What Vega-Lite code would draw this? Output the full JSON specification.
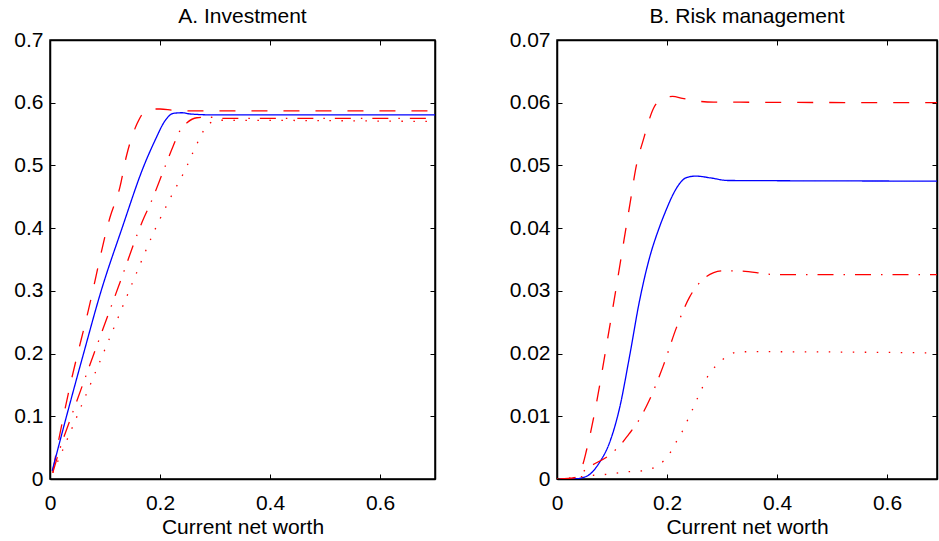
{
  "$schema": "https://vega.github.io/schema/vega-lite/v6.json",
  "padding": {"left": 13, "top": 5, "right": 0, "bottom": 0},
  "config": {
    "font": "Liberation Sans",
    "view": {"stroke": "black", "strokeWidth": 1.5},
    "axis": {
      "grid": false,
      "domainColor": "black",
      "domainWidth": 1.5,
      "tickColor": "black",
      "tickWidth": 1,
      "tickSize": -5,
      "labelFont": "Liberation Sans",
      "labelFontSize": 21,
      "labelColor": "black",
      "labelFlush": false,
      "labelOverlap": false,
      "titleFont": "Liberation Sans",
      "titleFontSize": 21,
      "titleFontWeight": "normal",
      "titleColor": "black"
    },
    "title": {"font": "Liberation Sans", "fontSize": 21, "fontWeight": "normal", "color": "black", "baseline": "alphabetic", "offset": 2}
  },
  "datasets": {
    "inv": [
      {"s": "dashed", "x": 0.005, "y": 0.012}, {"s": "dashed", "x": 0.009, "y": 0.031}, {"s": "dashed", "x": 0.033, "y": 0.135}, {"s": "dashed", "x": 0.07, "y": 0.27}, {"s": "dashed", "x": 0.109, "y": 0.417}, {"s": "dashed", "x": 0.127, "y": 0.465}, {"s": "dashed", "x": 0.139, "y": 0.515}, {"s": "dashed", "x": 0.158, "y": 0.566}, {"s": "dashed", "x": 0.17, "y": 0.584}, {"s": "dashed", "x": 0.185, "y": 0.59}, {"s": "dashed", "x": 0.2, "y": 0.59}, {"s": "dashed", "x": 0.224, "y": 0.588}, {"s": "dashed", "x": 0.26, "y": 0.587}, {"s": "dashed", "x": 0.7, "y": 0.587},
      {"s": "solid", "x": 0.004, "y": 0.013}, {"s": "solid", "x": 0.03, "y": 0.1}, {"s": "solid", "x": 0.061, "y": 0.2}, {"s": "solid", "x": 0.093, "y": 0.3}, {"s": "solid", "x": 0.131, "y": 0.4}, {"s": "solid", "x": 0.171, "y": 0.5}, {"s": "solid", "x": 0.191, "y": 0.54}, {"s": "solid", "x": 0.209, "y": 0.571}, {"s": "solid", "x": 0.224, "y": 0.583}, {"s": "solid", "x": 0.24, "y": 0.584}, {"s": "solid", "x": 0.255, "y": 0.582}, {"s": "solid", "x": 0.3, "y": 0.5805}, {"s": "solid", "x": 0.7, "y": 0.5805},
      {"s": "dashdot", "x": 0.005, "y": 0.01}, {"s": "dashdot", "x": 0.018, "y": 0.048}, {"s": "dashdot", "x": 0.038, "y": 0.098}, {"s": "dashdot", "x": 0.08, "y": 0.2}, {"s": "dashdot", "x": 0.125, "y": 0.308}, {"s": "dashdot", "x": 0.171, "y": 0.417}, {"s": "dashdot", "x": 0.182, "y": 0.438}, {"s": "dashdot", "x": 0.206, "y": 0.491}, {"s": "dashdot", "x": 0.224, "y": 0.531}, {"s": "dashdot", "x": 0.236, "y": 0.555}, {"s": "dashdot", "x": 0.249, "y": 0.568}, {"s": "dashdot", "x": 0.267, "y": 0.576}, {"s": "dashdot", "x": 0.288, "y": 0.577}, {"s": "dashdot", "x": 0.315, "y": 0.575}, {"s": "dashdot", "x": 0.7, "y": 0.575},
      {"s": "dotted", "x": 0.005, "y": 0.01}, {"s": "dotted", "x": 0.02, "y": 0.04}, {"s": "dotted", "x": 0.039, "y": 0.079}, {"s": "dotted", "x": 0.073, "y": 0.15}, {"s": "dotted", "x": 0.11, "y": 0.228}, {"s": "dotted", "x": 0.15, "y": 0.313}, {"s": "dotted", "x": 0.191, "y": 0.398}, {"s": "dotted", "x": 0.22, "y": 0.45}, {"s": "dotted", "x": 0.249, "y": 0.499}, {"s": "dotted", "x": 0.258, "y": 0.517}, {"s": "dotted", "x": 0.267, "y": 0.534}, {"s": "dotted", "x": 0.277, "y": 0.552}, {"s": "dotted", "x": 0.288, "y": 0.566}, {"s": "dotted", "x": 0.309, "y": 0.572}, {"s": "dotted", "x": 0.7, "y": 0.57}
    ],
    "risk": [
      {"s": "dashed", "x": 0.005, "y": 0}, {"s": "dashed", "x": 0.03, "y": 0}, {"s": "dashed", "x": 0.034, "y": 0.0008}, {"s": "dashed", "x": 0.046, "y": 0.0021}, {"s": "dashed", "x": 0.054, "y": 0.0047}, {"s": "dashed", "x": 0.0715, "y": 0.012}, {"s": "dashed", "x": 0.09, "y": 0.0213}, {"s": "dashed", "x": 0.108, "y": 0.0307}, {"s": "dashed", "x": 0.122, "y": 0.0382}, {"s": "dashed", "x": 0.134, "y": 0.0446}, {"s": "dashed", "x": 0.143, "y": 0.0494}, {"s": "dashed", "x": 0.158, "y": 0.0544}, {"s": "dashed", "x": 0.176, "y": 0.0592}, {"s": "dashed", "x": 0.195, "y": 0.0608}, {"s": "dashed", "x": 0.21, "y": 0.061}, {"s": "dashed", "x": 0.228, "y": 0.0607}, {"s": "dashed", "x": 0.252, "y": 0.0603}, {"s": "dashed", "x": 0.285, "y": 0.0601}, {"s": "dashed", "x": 0.7, "y": 0.06},
      {"s": "solid", "x": 0.005, "y": 0}, {"s": "solid", "x": 0.03, "y": 0}, {"s": "solid", "x": 0.053, "y": 0.0004}, {"s": "solid", "x": 0.077, "y": 0.0026}, {"s": "solid", "x": 0.096, "y": 0.0059}, {"s": "solid", "x": 0.114, "y": 0.0114}, {"s": "solid", "x": 0.132, "y": 0.0196}, {"s": "solid", "x": 0.15, "y": 0.0284}, {"s": "solid", "x": 0.168, "y": 0.0352}, {"s": "solid", "x": 0.186, "y": 0.0401}, {"s": "solid", "x": 0.198, "y": 0.0428}, {"s": "solid", "x": 0.21, "y": 0.0452}, {"s": "solid", "x": 0.222, "y": 0.047}, {"s": "solid", "x": 0.234, "y": 0.048}, {"s": "solid", "x": 0.252, "y": 0.0483}, {"s": "solid", "x": 0.28, "y": 0.048}, {"s": "solid", "x": 0.31, "y": 0.0476}, {"s": "solid", "x": 0.7, "y": 0.0475},
      {"s": "dashdot", "x": 0.005, "y": 0}, {"s": "dashdot", "x": 0.031, "y": 0.0002}, {"s": "dashdot", "x": 0.058, "y": 0.0019}, {"s": "dashdot", "x": 0.098, "y": 0.004}, {"s": "dashdot", "x": 0.116, "y": 0.0055}, {"s": "dashdot", "x": 0.131, "y": 0.0072}, {"s": "dashdot", "x": 0.144, "y": 0.0087}, {"s": "dashdot", "x": 0.168, "y": 0.0126}, {"s": "dashdot", "x": 0.193, "y": 0.018}, {"s": "dashdot", "x": 0.217, "y": 0.0241}, {"s": "dashdot", "x": 0.241, "y": 0.029}, {"s": "dashdot", "x": 0.265, "y": 0.0318}, {"s": "dashdot", "x": 0.285, "y": 0.0329}, {"s": "dashdot", "x": 0.302, "y": 0.0332}, {"s": "dashdot", "x": 0.326, "y": 0.0332}, {"s": "dashdot", "x": 0.399, "y": 0.0326}, {"s": "dashdot", "x": 0.7, "y": 0.0326},
      {"s": "dotted", "x": 0.0, "y": 0}, {"s": "dotted", "x": 0.028, "y": 0.0002}, {"s": "dotted", "x": 0.067, "y": 0.0006}, {"s": "dotted", "x": 0.091, "y": 0.00075}, {"s": "dotted", "x": 0.113, "y": 0.001}, {"s": "dotted", "x": 0.134, "y": 0.0012}, {"s": "dotted", "x": 0.155, "y": 0.0013}, {"s": "dotted", "x": 0.176, "y": 0.0018}, {"s": "dotted", "x": 0.194, "y": 0.0029}, {"s": "dotted", "x": 0.208, "y": 0.0045}, {"s": "dotted", "x": 0.218, "y": 0.0061}, {"s": "dotted", "x": 0.229, "y": 0.0078}, {"s": "dotted", "x": 0.238, "y": 0.0095}, {"s": "dotted", "x": 0.247, "y": 0.0112}, {"s": "dotted", "x": 0.256, "y": 0.013}, {"s": "dotted", "x": 0.265, "y": 0.0147}, {"s": "dotted", "x": 0.275, "y": 0.0165}, {"s": "dotted", "x": 0.292, "y": 0.0183}, {"s": "dotted", "x": 0.308, "y": 0.0195}, {"s": "dotted", "x": 0.326, "y": 0.0202}, {"s": "dotted", "x": 0.35, "y": 0.0203}, {"s": "dotted", "x": 0.7, "y": 0.0201}
    ]
  },
  "spacing": 71,
  "hconcat": [
    {
      "title": "A. Investment",
      "width": 385,
      "height": 439,
      "data": {"name": "inv"},
      "layer": [
        {
          "mark": {"type": "line", "interpolate": "monotone", "strokeWidth": 1.3, "clip": true},
          "encoding": {
            "x": {"field": "x", "type": "quantitative", "scale": {"domain": [0, 0.7], "nice": false, "zero": false},
                  "axis": {"values": [0, 0.2, 0.4, 0.6], "format": "~g", "title": "Current net worth", "labelPadding": 18, "titlePadding": 3}},
            "y": {"field": "y", "type": "quantitative", "scale": {"domain": [0, 0.7], "nice": false, "zero": false},
                  "axis": {"values": [0, 0.1, 0.2, 0.3, 0.4, 0.5, 0.6, 0.7], "format": "~g", "title": null, "labelPadding": 12}},
            "color": {"field": "s", "type": "nominal", "legend": null, "scale": {"domain": ["dashed", "solid", "dashdot", "dotted"], "range": ["#ff0000", "#0000ff", "#ff0000", "#ff0000"]}},
            "strokeDash": {"field": "s", "type": "nominal", "legend": null, "scale": {"domain": ["dashed", "solid", "dashdot", "dotted"], "range": [[16, 16], [1, 0], [16, 10, 1.5, 10], [1.5, 10.5]]}}
          }
        },
        {
          "mark": {"type": "line", "opacity": 0},
          "encoding": {
            "x": {"field": "x", "type": "quantitative", "axis": {"orient": "top", "values": [0, 0.2, 0.4, 0.6], "labels": false, "title": null}},
            "y": {"field": "y", "type": "quantitative", "axis": {"orient": "right", "values": [0, 0.1, 0.2, 0.3, 0.4, 0.5, 0.6, 0.7], "labels": false, "title": null}},
            "detail": {"field": "s"}
          }
        }
      ],
      "resolve": {"axis": {"x": "independent", "y": "independent"}}
    },
    {
      "title": "B. Risk management",
      "width": 380,
      "height": 439,
      "data": {"name": "risk"},
      "layer": [
        {
          "mark": {"type": "line", "interpolate": "monotone", "strokeWidth": 1.3, "clip": true},
          "encoding": {
            "x": {"field": "x", "type": "quantitative", "scale": {"domain": [0, 0.6909], "nice": false, "zero": false},
                  "axis": {"values": [0, 0.2, 0.4, 0.6], "format": "~g", "title": "Current net worth", "labelPadding": 18, "titlePadding": 3}},
            "y": {"field": "y", "type": "quantitative", "scale": {"domain": [0, 0.07], "nice": false, "zero": false},
                  "axis": {"values": [0, 0.01, 0.02, 0.03, 0.04, 0.05, 0.06, 0.07], "format": "~g", "title": null, "labelPadding": 12}},
            "color": {"field": "s", "type": "nominal", "legend": null, "scale": {"domain": ["dashed", "solid", "dashdot", "dotted"], "range": ["#ff0000", "#0000ff", "#ff0000", "#ff0000"]}},
            "strokeDash": {"field": "s", "type": "nominal", "legend": null, "scale": {"domain": ["dashed", "solid", "dashdot", "dotted"], "range": [[16, 16], [1, 0], [16, 10, 1.5, 10], [1.5, 10.5]]}}
          }
        },
        {
          "mark": {"type": "line", "opacity": 0},
          "encoding": {
            "x": {"field": "x", "type": "quantitative", "axis": {"orient": "top", "values": [0, 0.2, 0.4, 0.6], "labels": false, "title": null}},
            "y": {"field": "y", "type": "quantitative", "axis": {"orient": "right", "values": [0, 0.01, 0.02, 0.03, 0.04, 0.05, 0.06, 0.07], "labels": false, "title": null}},
            "detail": {"field": "s"}
          }
        }
      ],
      "resolve": {"axis": {"x": "independent", "y": "independent"}}
    }
  ]
}
